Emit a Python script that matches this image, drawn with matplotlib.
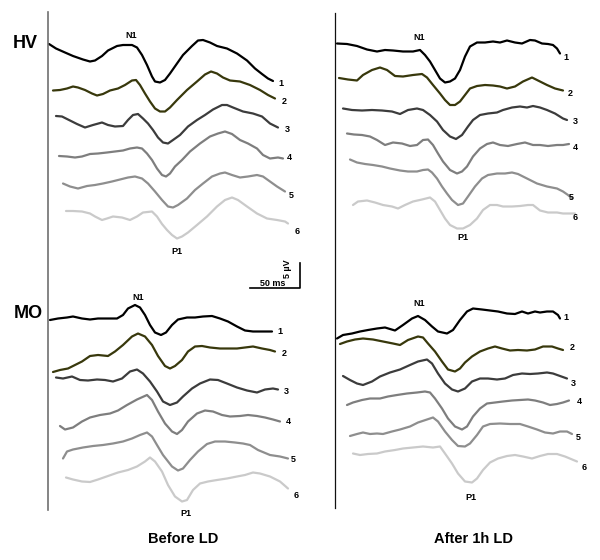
import numpy as np
import matplotlib.pyplot as plt

plt.rcParams['font.family'] = ['Liberation Sans', 'DejaVu Sans']

# VEP traces: time (ms from trace onset) and amplitude (uV, positive down)
# HV, before LD
hvb_t1 = [0, 7, 16, 24, 34, 41, 46, 53, 59, 68, 74, 83, 88, 93, 98, 103, 106, 111, 116, 121, 128, 134, 143, 149, 154, 161, 168, 178, 188, 198, 206, 213, 219, 224]
hvb_v1 = [0, 0.9, 1.7, 2.4, 3.1, 3.5, 3.3, 2.4, 1.3, 0.4, 0.2, 0.2, 0.7, 2.2, 4.2, 6.5, 7.5, 7.7, 7.2, 5.9, 3.9, 2.2, 0.4, -0.7, -0.8, -0.3, 0.4, 0.9, 1.9, 3.3, 4.9, 6.0, 6.9, 7.4]
hvb_t2 = [0, 7, 14, 20, 25, 32, 39, 44, 50, 57, 65, 72, 79, 83, 87, 92, 97, 102, 107, 112, 117, 124, 134, 144, 152, 158, 164, 170, 177, 187, 197, 207, 215, 222]
hvb_v2 = [-0.1, -0.2, -0.5, -0.9, -0.7, -0.2, 0.5, 0.9, 0.6, -0.1, -0.5, -1.2, -2.1, -2.2, -1.2, 0.5, 2.1, 3.5, 4.1, 4.1, 3.3, 1.8, -0.2, -1.9, -3.3, -3.9, -3.5, -2.7, -2.1, -1.9, -1.2, -0.2, 0.8, 1.5]
hvb_t3 = [0, 6, 12, 21, 29, 37, 46, 52, 59, 67, 72, 77, 82, 87, 92, 97, 102, 107, 112, 117, 124, 132, 141, 149, 157, 166, 171, 177, 187, 197, 206, 214, 222]
hvb_v3 = [0, 0.1, 0.7, 1.6, 2.3, 1.8, 1.3, 1.8, 2.1, 2.0, 0.8, -0.2, -0.4, 0.5, 1.5, 2.8, 4.3, 5.3, 5.5, 4.8, 3.8, 2.1, 0.8, -0.2, -1.3, -2.2, -2.2, -1.7, -0.9, -0.5, 0.1, 1.5, 2.3]
hvb_t4 = [0, 8, 16, 23, 31, 39, 48, 56, 64, 71, 78, 83, 88, 93, 98, 103, 107, 111, 116, 123, 131, 141, 151, 159, 166, 173, 181, 189, 198, 204, 211, 219, 224]
hvb_v4 = [0, 0.1, 0.3, 0.1, -0.4, -0.5, -0.7, -0.9, -1.1, -1.5, -1.7, -1.5, -0.5, 0.8, 2.5, 3.8, 4.1, 3.5, 2.1, 0.8, -0.9, -2.5, -3.9, -4.5, -4.9, -4.4, -3.2, -2.5, -1.5, -0.2, 0.5, 0.3, 0.5]
hvb_t5 = [0, 7, 15, 24, 32, 40, 49, 57, 65, 72, 79, 85, 92, 99, 105, 110, 115, 124, 132, 140, 149, 157, 162, 169, 177, 185, 194, 200, 207, 214, 222]
hvb_v5 = [0.1, 0.7, 1.1, 0.6, 0.4, 0.1, -0.3, -0.7, -1.1, -1.3, -0.9, 0.1, 1.7, 3.4, 4.7, 4.9, 4.4, 3.1, 1.4, 0.1, -1.3, -1.9, -2.1, -1.6, -1.1, -1.3, -1.6, -1.3, -0.3, 0.7, 1.7]
hvb_t6 = [0, 7, 16, 24, 29, 36, 41, 47, 56, 64, 71, 77, 86, 91, 96, 101, 106, 111, 116, 122, 131, 141, 151, 159, 166, 172, 181, 191, 201, 211, 219, 222]
hvb_v6 = [0, 0, 0.1, 0.5, 1.1, 1.8, 1.5, 1.1, 1.3, 1.8, 1.1, 0.3, 0.1, 1.1, 2.6, 3.8, 4.8, 5.5, 5.1, 4.3, 2.8, 1.1, -0.9, -2.2, -2.7, -2.2, -0.9, 0.5, 1.5, 1.8, 2.1, 2.5]

# HV, after 1h LD
hva_t1 = [0, 10, 20, 30, 40, 48, 56, 66, 76, 83, 88, 93, 98, 103, 108, 113, 118, 123, 128, 133, 140, 148, 156, 163, 170, 178, 185, 193, 198, 205, 211, 216, 220, 223]
hva_v1 = [0.1, 0.2, 0.6, 1.3, 1.7, 1.4, 1.5, 1.7, 1.7, 1.4, 2.4, 3.7, 5.4, 7.1, 7.9, 7.7, 7.1, 5.4, 2.7, 0.7, -0.1, -0.1, -0.3, -0.1, -0.5, -0.1, 0.1, -0.6, -0.5, 0.1, 0.2, 0.4, 1.1, 2.1]
hva_t2 = [0, 9, 18, 24, 33, 41, 48, 56, 64, 74, 83, 88, 94, 101, 106, 111, 116, 121, 126, 131, 138, 146, 154, 161, 168, 176, 184, 193, 199, 208, 216, 224]
hva_v2 = [0, 0.3, 0.5, -0.6, -1.6, -2.1, -1.6, -0.4, -0.3, -0.6, -0.8, -0.1, 1.4, 3.1, 4.4, 5.4, 5.4, 4.7, 3.4, 2.1, 1.6, 1.4, 1.5, 1.7, 2.1, 1.7, 0.7, -0.1, 0.5, 1.4, 2.1, 2.5]
hva_t3 = [0, 9, 19, 29, 39, 49, 57, 65, 74, 80, 87, 94, 100, 107, 113, 119, 125, 130, 137, 145, 154, 160, 169, 177, 184, 190, 197, 204, 212, 220, 224]
hva_v3 = [0.1, 0.4, 0.5, 0.4, 0.5, 0.7, 1.2, 0.4, 0.1, 0.4, 1.4, 2.7, 4.4, 5.7, 6.2, 5.4, 3.7, 2.4, 1.4, 1.1, 0.9, 0.4, -0.1, -0.3, -0.1, -0.4, -0.1, 0.4, 1.1, 2.1, 2.4]
hva_t4 = [0, 7, 15, 23, 30, 38, 46, 55, 63, 70, 76, 81, 86, 91, 96, 103, 110, 115, 120, 126, 133, 140, 146, 153, 161, 170, 178, 186, 193, 201, 210, 216, 222]
hva_v4 = [0.1, 0.3, 0.4, 0.7, 1.4, 2.4, 1.9, 2.1, 2.6, 2.4, 1.4, 1.3, 2.4, 4.1, 5.7, 7.4, 8.1, 7.7, 6.7, 4.7, 3.1, 2.2, 1.9, 2.4, 2.6, 2.2, 1.9, 2.4, 2.4, 2.6, 2.4, 2.4, 2.2]
hva_t5 = [0, 7, 15, 23, 32, 40, 50, 58, 67, 73, 78, 82, 87, 92, 97, 102, 108, 113, 118, 125, 132, 138, 147, 155, 162, 168, 177, 187, 197, 207, 213, 218, 222]
hva_v5 = [0.1, 0.7, 1.0, 1.2, 1.5, 1.9, 2.3, 2.5, 2.5, 2.2, 2.1, 2.7, 3.9, 5.5, 6.9, 8.2, 9.2, 8.9, 7.5, 5.5, 3.9, 3.2, 2.9, 2.9, 2.7, 3.0, 3.9, 4.9, 5.5, 5.9, 6.5, 7.2, 7.9]
hva_t6 = [0, 5, 14, 22, 30, 39, 45, 52, 60, 69, 77, 82, 87, 92, 97, 104, 110, 117, 124, 130, 137, 144, 150, 159, 167, 175, 180, 187, 195, 204, 210, 217, 222]
hva_v6 = [0, -0.7, -0.9, -0.5, 0, 0.3, 0.7, 0, -0.7, -1.1, -1.5, -0.7, 1.0, 2.7, 4.0, 4.7, 4.7, 4.0, 2.7, 1.0, 0, 0, 0.3, 0.3, 0.2, 0, 0, 1.1, 1.5, 1.5, 1.7, 1.7, 1.7]

# MO, before LD
mob_t1 = [0, 8, 17, 23, 32, 40, 48, 57, 67, 73, 78, 85, 90, 95, 100, 105, 111, 116, 122, 128, 137, 145, 153, 162, 170, 178, 187, 195, 203, 212, 222]
mob_v1 = [0, -0.3, -0.5, -0.7, -0.3, -0.1, -0.3, -0.3, -0.3, -1.0, -2.3, -3.0, -2.5, -1.0, 1.0, 2.5, 3.0, 2.5, 1.0, -0.1, -0.5, -0.5, -0.7, -0.8, -0.3, 0.3, 1.3, 2.1, 2.3, 2.3, 2.3]
mob_t2 = [0, 7, 15, 22, 29, 37, 45, 55, 62, 70, 79, 85, 92, 99, 105, 112, 117, 122, 129, 135, 142, 149, 157, 167, 174, 184, 192, 200, 209, 217, 222]
mob_v2 = [0, -0.4, -0.7, -1.4, -2.1, -3.2, -3.4, -3.2, -4.1, -5.4, -7.1, -7.7, -7.1, -5.4, -3.2, -1.2, -0.7, -1.2, -2.4, -4.1, -5.1, -5.2, -4.9, -4.7, -4.7, -4.7, -4.9, -5.1, -4.7, -4.4, -4.1]
mob_t3 = [0, 7, 16, 24, 32, 41, 49, 57, 66, 74, 81, 87, 94, 101, 107, 114, 121, 127, 136, 144, 154, 162, 171, 181, 191, 201, 209, 217, 222]
mob_v3 = [0.1, 0.3, -0.1, 0.6, 0.7, 0.5, 0.6, 0.9, 0.3, -1.1, -1.5, -0.7, 0.9, 2.9, 4.9, 5.6, 5.1, 3.9, 2.3, 1.3, 0.5, 0.6, 1.3, 2.1, 2.7, 3.1, 2.5, 2.3, 2.5]
mob_t4 = [0, 5, 13, 22, 30, 40, 50, 58, 67, 77, 87, 92, 98, 105, 112, 117, 122, 128, 137, 145, 153, 162, 170, 180, 188, 197, 205, 213, 220]
mob_v4 = [0, 0.7, 0.3, -0.9, -1.7, -2.2, -2.5, -3.1, -4.2, -5.3, -6.2, -5.2, -2.9, -0.5, 1.1, 1.6, 0.8, -0.9, -2.5, -3.1, -2.9, -2.2, -1.9, -2.0, -2.2, -2.0, -1.7, -1.3, -0.9]
mob_t5 = [0, 4, 10, 20, 30, 40, 50, 60, 69, 77, 84, 89, 94, 100, 109, 115, 120, 127, 135, 144, 152, 162, 172, 180, 187, 195, 207, 217, 225]
mob_v5 = [0.1, -1.3, -1.7, -2.1, -2.4, -2.6, -2.9, -3.3, -3.9, -4.6, -5.1, -4.3, -2.6, -0.6, 1.7, 2.5, 2.1, 0.4, -1.3, -2.8, -3.3, -3.3, -3.1, -2.9, -2.6, -1.6, -0.6, -0.3, 0.1]
mob_t6 = [0, 7, 16, 24, 32, 42, 52, 62, 71, 79, 84, 89, 96, 102, 109, 116, 121, 127, 134, 142, 151, 161, 171, 179, 187, 194, 204, 214, 222]
mob_v6 = [0.1, 0.5, 0.9, 1.0, 0.5, -0.2, -0.9, -1.4, -2.1, -3.1, -3.9, -3.1, -1.1, 1.6, 3.9, 4.9, 4.6, 2.6, 1.3, 0.9, 0.6, 0.3, -0.1, -0.4, -0.9, -0.7, -0.1, 0.9, 2.3]

# MO, after 1h LD
moa_t1 = [0, 6, 15, 23, 31, 40, 48, 58, 66, 75, 81, 88, 95, 101, 110, 116, 123, 130, 136, 145, 153, 161, 170, 178, 185, 191, 198, 203, 210, 216, 221, 223]
moa_v1 = [0.1, -0.6, -0.9, -1.3, -1.6, -1.9, -2.1, -1.5, -2.6, -3.9, -4.4, -3.6, -2.3, -1.3, -0.9, -1.6, -3.6, -5.3, -5.9, -5.7, -5.5, -5.3, -4.9, -4.8, -5.3, -4.9, -5.3, -5.1, -5.3, -5.3, -4.6, -3.9]
moa_t2 = [0, 7, 15, 23, 33, 43, 53, 60, 68, 78, 83, 88, 95, 102, 108, 115, 120, 125, 132, 140, 148, 155, 162, 170, 178, 187, 195, 203, 212, 218, 223]
moa_v2 = [0, -0.5, -0.9, -1.1, -0.9, -0.5, -0.1, 0.2, -0.8, -1.5, -1.3, -0.1, 1.5, 3.5, 5.1, 5.5, 4.9, 3.7, 2.5, 1.5, 0.9, 0.5, 0.9, 1.3, 1.2, 1.3, 1.1, 0.5, 0.5, 0.9, 1.2]
moa_t3 = [0, 7, 14, 20, 29, 37, 47, 57, 67, 75, 84, 89, 95, 102, 109, 115, 122, 129, 137, 145, 154, 162, 170, 179, 187, 195, 204, 210, 217, 224]
moa_v3 = [0, 0.8, 1.5, 1.8, 1.1, 0.1, -0.7, -1.3, -2.2, -2.9, -3.3, -2.5, -0.5, 1.5, 2.7, 3.1, 2.5, 1.1, 0.5, 0.5, 0.7, 0.5, -0.2, -0.5, -0.4, -0.5, -0.7, -0.5, 0, 0.5]
moa_t4 = [0, 6, 15, 23, 33, 41, 50, 60, 70, 78, 83, 88, 95, 101, 108, 115, 120, 126, 133, 140, 148, 156, 165, 173, 181, 188, 196, 203, 210, 216, 222]
moa_v4 = [0, -0.5, -1.0, -1.3, -1.3, -1.7, -2.0, -2.3, -2.5, -2.7, -2.5, -1.3, 0.7, 2.7, 4.3, 4.9, 4.3, 2.3, 0.7, -0.3, -0.5, -0.7, -0.9, -1.0, -1.1, -0.9, -0.5, 0, -0.2, -0.5, -0.9]
moa_t5 = [0, 7, 13, 20, 27, 33, 42, 50, 60, 68, 77, 83, 88, 95, 102, 108, 115, 120, 127, 133, 140, 150, 160, 170, 178, 187, 195, 203, 210, 217, 222]
moa_v5 = [0, -0.4, -0.7, -0.4, -0.5, -0.4, -0.9, -1.3, -1.9, -2.7, -3.3, -3.7, -2.9, -0.9, 0.8, 2.0, 2.1, 1.5, -0.2, -1.9, -2.4, -2.5, -2.4, -2.4, -1.9, -1.3, -0.7, -0.5, -0.9, -0.9, -0.4]
moa_t6 = [0, 7, 15, 24, 32, 42, 50, 60, 70, 80, 87, 92, 99, 105, 112, 119, 124, 130, 137, 145, 154, 162, 170, 179, 187, 195, 204, 212, 224]
moa_v6 = [0.1, 0.4, 0.2, 0.1, -0.3, -0.6, -0.9, -1.1, -1.3, -1.1, -1.3, 0.1, 2.1, 4.1, 5.7, 5.9, 5.1, 3.4, 1.9, 1.1, 0.6, 0.4, 0.7, 1.1, 0.6, 0.2, 0.2, 0.7, 1.7]

trace_labels = ['1', '2', '3', '4', '5', '6']
group_labels = ['HV', 'MO']
condition_labels = ['Before LD', 'After 1h LD']

# layout (figure pixels, y down)
PX_PER_MS = 1.0
PX_PER_UV = 5.0
colors = ['#000000', '#38380c', '#3c3c3c', '#7e7e7e', '#8e8e8e', '#cacaca']

panels = [
    dict(traces=[(hvb_t1, hvb_v1), (hvb_t2, hvb_v2), (hvb_t3, hvb_v3), (hvb_t4, hvb_v4), (hvb_t5, hvb_v5), (hvb_t6, hvb_v6)],
         origins=[(49, 44), (53, 91), (56, 116), (59, 156), (63, 183), (66, 211)],
         num_pos=[(281, 83), (284, 101), (287, 129), (289, 158), (291, 195), (297, 232)],
         n1=(131, 36), p1=(177, 251)),
    dict(traces=[(hva_t1, hva_v1), (hva_t2, hva_v2), (hva_t3, hva_v3), (hva_t4, hva_v4), (hva_t5, hva_v5), (hva_t6, hva_v6)],
         origins=[(337, 43), (339, 78), (343, 108), (347, 133), (350, 159), (353, 205)],
         num_pos=[(566, 57), (570, 94), (575, 121), (575, 147), (571, 198), (575, 217)],
         n1=(419, 37), p1=(463, 237)),
    dict(traces=[(mob_t1, mob_v1), (mob_t2, mob_v2), (mob_t3, mob_v3), (mob_t4, mob_v4), (mob_t5, mob_v5), (mob_t6, mob_v6)],
         origins=[(50, 320), (53, 372), (56, 377), (60, 426), (63, 458), (66, 477)],
         num_pos=[(280, 332), (284, 353), (286, 392), (288, 422), (293, 460), (296, 495)],
         n1=(138, 298), p1=(186, 514)),
    dict(traces=[(moa_t1, moa_v1), (moa_t2, moa_v2), (moa_t3, moa_v3), (moa_t4, moa_v4), (moa_t5, moa_v5), (moa_t6, moa_v6)],
         origins=[(337, 338), (340, 344), (343, 376), (347, 405), (350, 436), (353, 453)],
         num_pos=[(566, 318), (572, 348), (573, 384), (579, 402), (578, 438), (584, 468)],
         n1=(419, 303), p1=(471, 498)),
]

fig = plt.figure(figsize=(6, 5.6), dpi=100)
ax = fig.add_axes([0, 0, 1, 1])
ax.set_xlim(0, 600)
ax.set_ylim(560, 0)
ax.axis('off')

for p in panels:
    for (t, v), (x0, y0), c in zip(p['traces'], p['origins'], colors):
        ax.plot(x0 + np.array(t) * PX_PER_MS, y0 + np.array(v) * PX_PER_UV,
                color=c, lw=1.6, solid_capstyle='round', solid_joinstyle='round')
    for lab, (x, y) in zip(trace_labels, p['num_pos']):
        ax.text(x, y, lab, fontsize=6.5, fontweight='bold', ha='center', va='center')
    ax.text(*p['n1'], 'N1', fontsize=6.5, fontweight='bold', ha='center', va='center')
    ax.text(*p['p1'], 'P1', fontsize=6.5, fontweight='bold', ha='center', va='center')

# vertical guide lines
ax.plot([48, 48], [12, 510], color='#707070', lw=1.2)
ax.plot([335, 335], [13, 508], color='#111111', lw=0.9)

# group and condition labels
ax.text(25, 43, group_labels[0], fontsize=13, fontweight='bold', ha='center', va='center')
ax.text(28, 314, group_labels[1], fontsize=13, fontweight='bold', ha='center', va='center')
ax.text(183, 539, condition_labels[0], fontsize=10.5, fontweight='bold', ha='center', va='center')
ax.text(473, 539, condition_labels[1], fontsize=10.5, fontweight='bold', ha='center', va='center')

# scale bar: 50 ms x 5 uV
sx, sy = 300, 288
ax.plot([sx - 50 * PX_PER_MS, sx, sx], [sy, sy, sy - 5 * PX_PER_UV], color='black', lw=1.2)
ax.text(sx - 27, sy - 5, '50 ms', fontsize=6.5, fontweight='bold', ha='center', va='center')
ax.text(sx - 12, sy - 19, '5 µV', fontsize=6.5, fontweight='bold', ha='center', va='center', rotation=90)

fig.savefig('out.png', dpi=100)
